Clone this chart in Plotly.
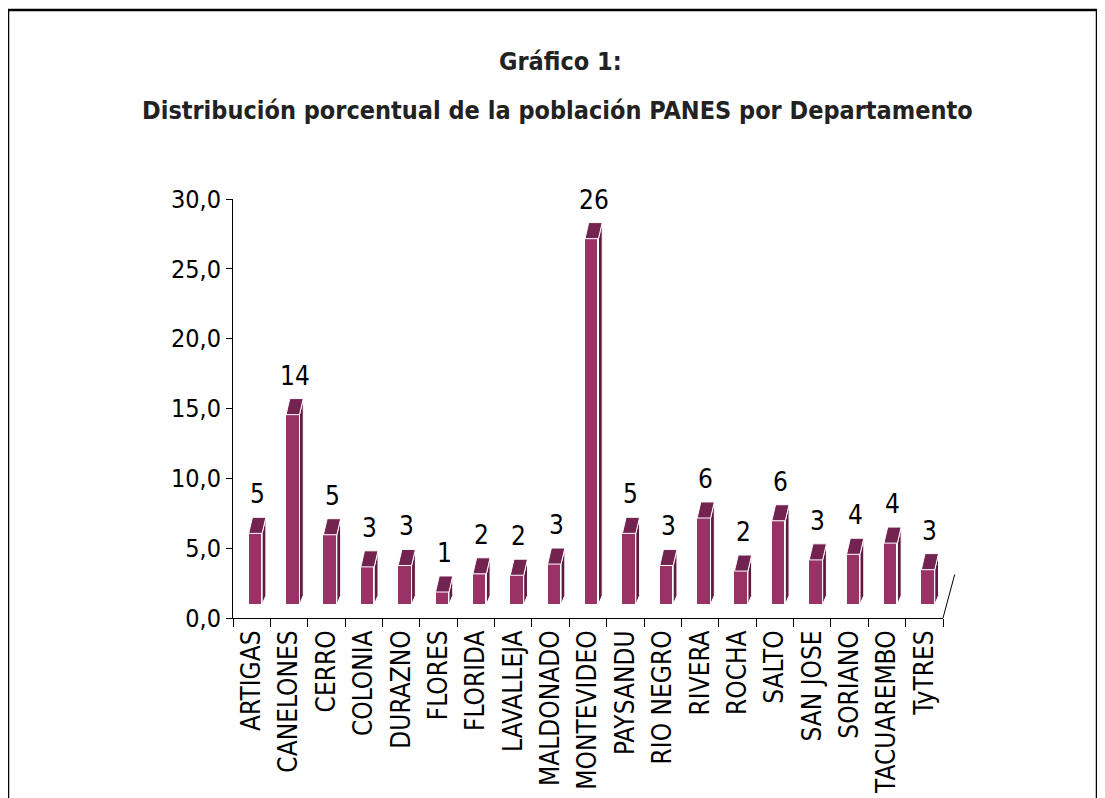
import math
import numpy as np
import plotly.graph_objects as go

# ---- data ----
categories = ["ARTIGAS", "CANELONES", "CERRO", "COLONIA", "DURAZNO", "FLORES",
              "FLORIDA", "LAVALLEJA", "MALDONADO", "MONTEVIDEO", "PAYSANDU",
              "RIO NEGRO", "RIVERA", "ROCHA", "SALTO", "SAN JOSE", "SORIANO",
              "TACUAREMBO", "TyTRES"]
values = [5.1, 13.6, 5.0, 2.7, 2.8, 0.9, 2.2, 2.1, 2.9, 26.2, 5.1, 2.8, 6.2,
          2.4, 6.0, 3.2, 3.6, 4.4, 2.5]
labels = [str(int(math.floor(v + 0.5))) for v in values]
y_ticks = [0, 5, 10, 15, 20, 25, 30]

# ---- 3D style parameters ----
FONT = "DejaVu Sans Condensed, Liberation Sans Narrow, sans-serif"
FRONT = "#993366"
TOP = "#722350"
SIDE = "#5e1a42"
BASE = 0.96      # floor offset of the 3D look
SHIFT = 0.10     # front face offset from category centre
W = 0.36         # front face width
DX = 0.10        # depth in x
DZ = 1.15        # depth in y
SIDE_BOT = 0.65

n = len(categories)
idx = np.arange(n)
centers = idx + SHIFT
tops = BASE + np.array(values)

fig = go.Figure()

fig.add_trace(go.Bar(
    x=centers, y=values, base=BASE, width=W,
    marker=dict(color=FRONT, line=dict(color="white", width=1)),
    hoverinfo="skip", showlegend=False))

top_x, top_y, side_x, side_y = [], [], [], []
for c, t in zip(centers, tops):
    xl, xr = c - W / 2, c + W / 2
    top_x += [xl, xr, xr + DX, xl + DX, xl, None]
    top_y += [t, t, t + DZ, t + DZ, t, None]
    side_x += [xr, xr, xr + DX, xr + DX, xr, None]
    side_y += [BASE, t, t + DZ, BASE + SIDE_BOT, BASE, None]

fig.add_trace(go.Scatter(x=side_x, y=side_y, mode="lines", fill="toself",
                         fillcolor=SIDE, line=dict(color="white", width=1),
                         hoverinfo="skip", showlegend=False))
fig.add_trace(go.Scatter(x=top_x, y=top_y, mode="lines", fill="toself",
                         fillcolor=TOP, line=dict(color="white", width=1),
                         hoverinfo="skip", showlegend=False))

annotations = []
for c, t, lab in zip(centers, tops, labels):
    annotations.append(dict(x=c + DX / 2, y=t + DZ, text=lab, showarrow=False,
                            xref="x", yref="y", yanchor="bottom", yshift=6,
                            font=dict(family=FONT, size=26, color="black")))

annotations.append(dict(x=0.461, y=1.327, xref="paper", yref="paper",
                        xanchor="center", yanchor="middle",
                        text="<b>Gráfico 1:</b>", showarrow=False,
                        font=dict(family=FONT, size=25, color="#222222")))
annotations.append(dict(x=0.457, y=1.212, xref="paper", yref="paper",
                        xanchor="center", yanchor="middle",
                        text="<b>Distribución porcentual de la población PANES por Departamento</b>",
                        showarrow=False,
                        font=dict(family=FONT, size=25, color="#222222")))

shapes = [
    # outer frame
    dict(type="rect", xref="paper", yref="paper", x0=-0.3169, x1=1.2169,
         y0=-0.6, y1=1.451, line=dict(color="black", width=2.5)),
    # floor edge
    dict(type="line", xref="paper", yref="paper", x0=1.0, y0=0.0,
         x1=1.0165, y1=0.104, line=dict(color="black", width=1)),
]

fig.update_layout(
    width=1105, height=798,
    margin=dict(l=225, r=170, t=191, b=188),
    paper_bgcolor="white", plot_bgcolor="white",
    separators=",.",
    bargap=0,
    annotations=annotations,
    shapes=shapes,
    font=dict(family=FONT, color="black"),
    xaxis=dict(range=[-0.5, n - 0.5], tickmode="array", tickvals=idx,
               ticktext=categories, ticks="", tickangle=-90,
               ticklabelstandoff=1,
               tickfont=dict(family=FONT, size=26, color="black"),
               showline=True, linecolor="black", linewidth=1,
               showgrid=False, zeroline=False,
               minor=dict(tickmode="linear", tick0=-0.5, dtick=1,
                          ticks="outside", ticklen=8, tickcolor="black",
                          tickwidth=1, showgrid=False)),
    yaxis=dict(range=[0, 30], tickmode="array", tickvals=y_ticks,
               tickformat=".1f", ticks="outside", ticklen=6,
               tickcolor="black", showline=True, linecolor="black",
               linewidth=1, showgrid=False, zeroline=False,
               tickfont=dict(family=FONT, size=25, color="black")),
)

fig.write_html("out.html")
